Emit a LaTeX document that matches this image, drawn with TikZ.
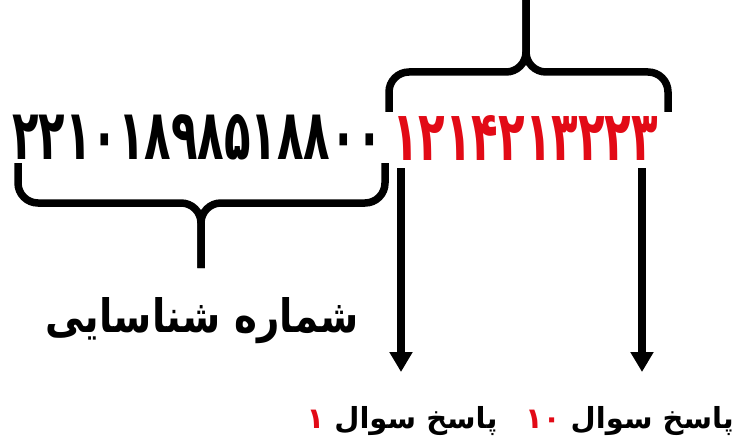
\documentclass[tikz,border=0pt]{standalone}
\usepackage{fontspec}
\usepackage{graphicx}
\usetikzlibrary{arrows.meta}
\TeXXeTstate=1
\newfontfamily\arabicfont[Script=Arabic]{DejaVu Sans}
\definecolor{ansred}{RGB}{226,10,22}
\newcommand{\rednum}[1]{\beginL{\color{ansred}#1}\endL}
\tikzset{
  bracepath/.style={line width=7.5pt, rounded corners=20pt, line cap=butt},
  arr/.style={line width=7.5pt, -{Triangle[width=22pt,length=20pt]}},
  lbl/.style={inner sep=0pt, font=\fontsize{29}{34}\arabicfont\bfseries},
}
\begin{document}
\begin{tikzpicture}[x=1pt,y=-1pt]
\useasboundingbox (0,0) rectangle (736,441);
% digit strings
\node[anchor=base west, inner sep=0pt] (id) at (12,160)
  {\resizebox{371pt}{45pt}{\arabicfont\bfseries ۲۲۱۰۱۸۹۸۵۱۸۸۰۰}};
\node[anchor=base west, inner sep=0pt, text=ansred] (ans) at (392,160)
  {\resizebox{266pt}{45pt}{\arabicfont\bfseries ۱۲۱۴۲۱۳۲۲۳}};
% top brace
\draw[bracepath] (389,112) -- (389,72) -- (526,72) -- (526,0);
\draw[bracepath] (668,112) -- (668,72) -- (526,72) -- (526,0);
% bottom brace
\draw[bracepath] (18,163) -- (18,203) -- (201,203) -- (201,268);
\draw[bracepath] (385,163) -- (385,203) -- (201,203) -- (201,268);
% label
\node[anchor=base, inner sep=0pt] (idlabel) at (202,332)
  {\resizebox{313pt}{35pt}{\arabicfont\bfseries\beginR شماره شناسایی\endR}};
% arrows
\coordinate (q1) at (401,168);
\coordinate (q1e) at (401,372);
\coordinate (q10) at (642,168);
\coordinate (q10e) at (642,372);
\draw[arr] (q1) -- (q1e);
\draw[arr] (q10) -- (q10e);
% answer labels
\node[lbl, anchor=base] (l1) at (402,428) {\beginR پاسخ سوال \rednum{۱}\endR};
\node[lbl, anchor=base east] (l10) at (734,428) {\beginR پاسخ سوال \rednum{۱۰}\endR};
\end{tikzpicture}
\end{document}
